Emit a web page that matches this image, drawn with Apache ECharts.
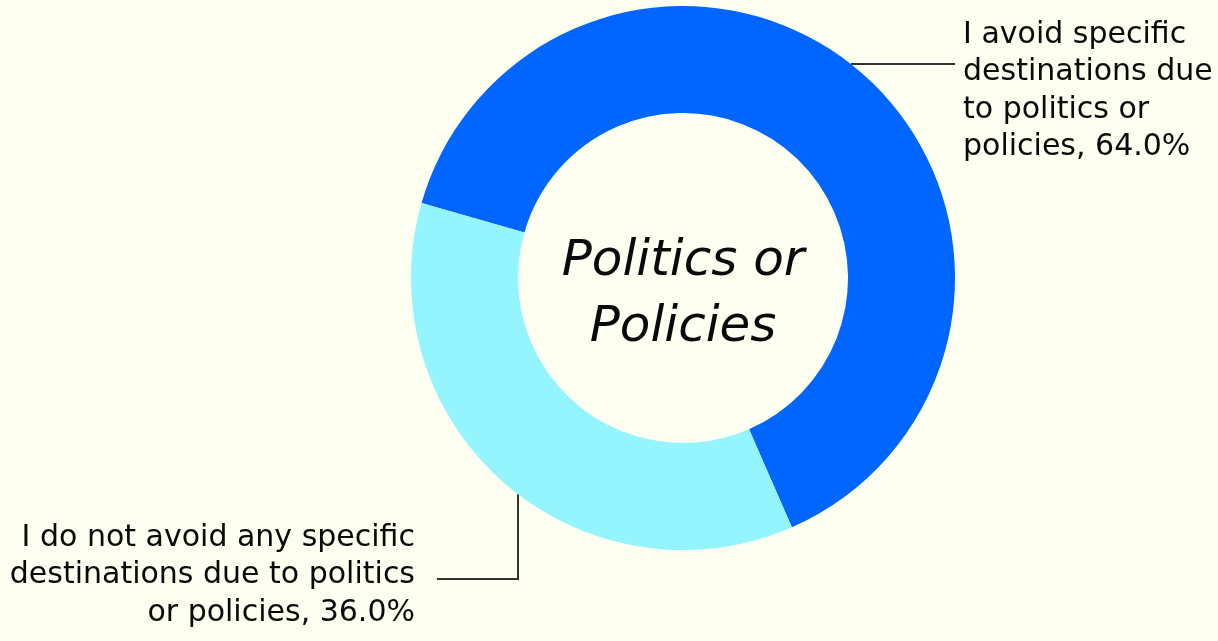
<!DOCTYPE html>
<html>
<head>
<meta charset="utf-8">
<script src="https://cdn.jsdelivr.net/npm/echarts@6/dist/echarts.min.js"></script>
<style>
  html, body { margin: 0; padding: 0; background: #FDFFF0; }
  #chart { width: 1218px; height: 641px; }
</style>
</head>
<body>
<div id="chart"></div>
<script>
// Survey answers and their shares (percent)
const categories = [
  'I avoid specific destinations due to politics or policies',
  'I do not avoid any specific destinations due to politics or policies'
];
const shares = [64.0, 36.0];
const sliceColors = ['#0066FF', '#94F5FF'];
// Wrapped label text for each slice (the value is appended to the last line)
const labelLines = [
  ['I avoid specific', 'destinations due', 'to politics or', 'policies,'],
  ['I do not avoid any specific', 'destinations due to politics', 'or policies,']
];
const centerTitle = 'Politics or\nPolicies';

const FONT = 'DejaVu Sans';
const CX = 683, CY = 278, R_OUT = 272, R_IN = 165;

const chart = echarts.init(document.getElementById('chart'), null, { renderer: 'canvas' });

const option = {
  backgroundColor: '#FDFFF0',
  animation: false,
  graphic: [{
    type: 'text',
    x: CX,
    y: 295,
    style: {
      text: centerTitle,
      font: 'italic 50px "' + FONT + '"',
      fill: '#0a0a0a',
      textAlign: 'center',
      textVerticalAlign: 'middle',
      lineHeight: 66
    }
  }],
  series: [{
    type: 'pie',
    center: [CX, CY],
    radius: [R_IN, R_OUT],
    startAngle: 164,
    clockwise: true,
    avoidLabelOverlap: false,
    silent: true,
    data: categories.map((name, i) => ({
      name,
      value: shares[i],
      itemStyle: { color: sliceColors[i] }
    })),
    label: {
      show: true,
      position: 'outside',
      fontFamily: FONT,
      fontSize: 30,
      lineHeight: 37.5,
      color: '#0a0a0a',
      formatter: (p) => {
        const lines = labelLines[p.dataIndex].slice();
        lines[lines.length - 1] += ' ' + p.value.toFixed(1) + '%';
        return lines.join('\n');
      }
    },
    labelLine: {
      show: true,
      lineStyle: { color: '#333333', width: 2 }
    },
    labelLayout: (params) => {
      if (params.dataIndex === 0) {
        // horizontal leader from the outer edge to the text on the right
        const ly = 64;
        const ex = CX + Math.sqrt(R_OUT * R_OUT - (ly - CY) * (ly - CY));
        return {
          x: 963, y: 16, align: 'left', verticalAlign: 'top',
          labelLinePoints: [[ex, ly], [ex, ly], [955, ly]]
        };
      }
      // elbow leader going down from the outer edge, then left to the text
      const lx = 518, ly = 579;
      const ey = CY + Math.sqrt(R_OUT * R_OUT - (lx - CX) * (lx - CX));
      return {
        x: 415, y: 519, align: 'right', verticalAlign: 'top',
        labelLinePoints: [[lx, ey], [lx, ly], [437, ly]]
      };
    }
  }]
};

chart.setOption(option);
</script>
</body>
</html>
